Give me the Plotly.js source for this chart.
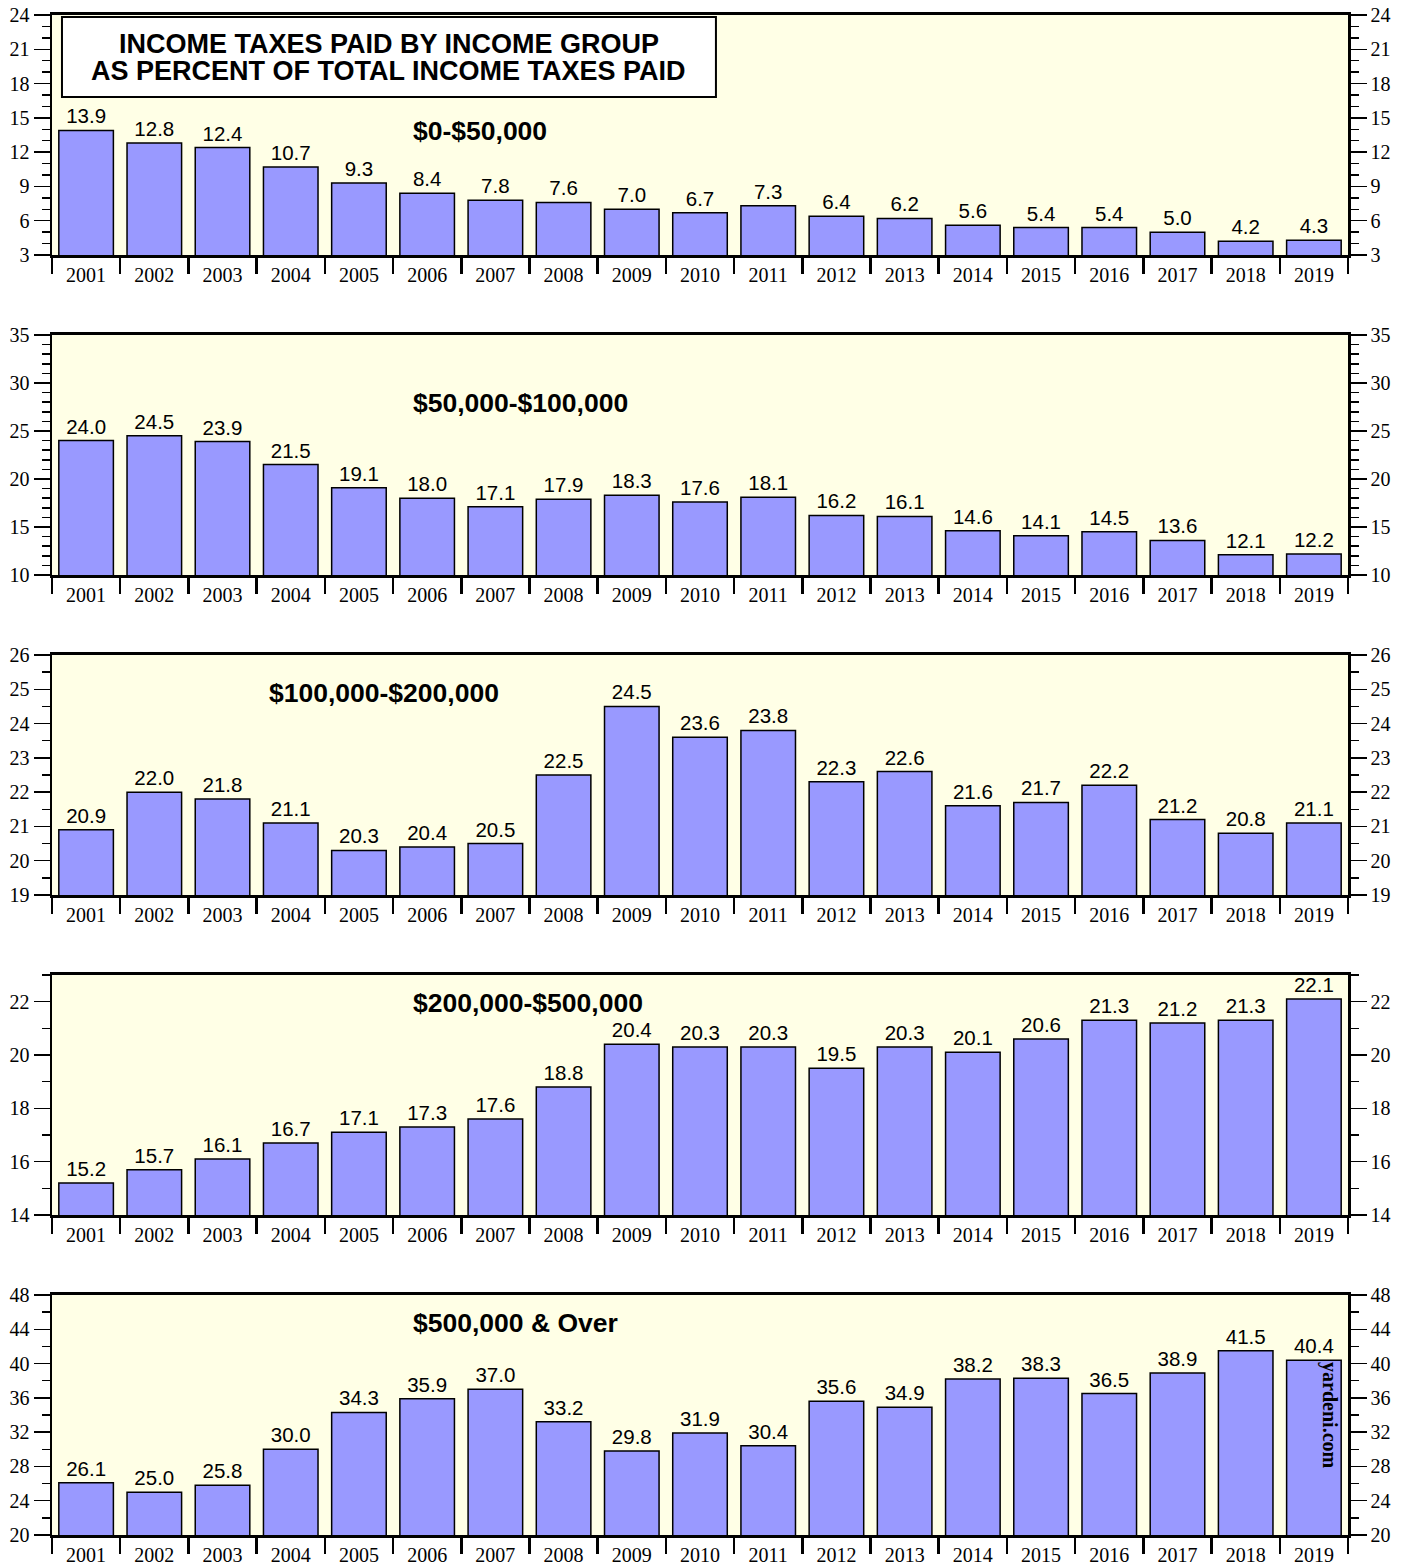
<!DOCTYPE html>
<html>
<head>
<meta charset="utf-8">
<script src="https://cdn.plot.ly/plotly-3.0.1.min.js"></script>
<style>html,body{margin:0;padding:0;background:#fff;}#chart{width:1407px;height:1564px;}</style>
</head>
<body>
<div id="chart"></div>
<script>
var years = ["2001","2002","2003","2004","2005","2006","2007","2008","2009","2010","2011","2012","2013","2014","2015","2016","2017","2018","2019"];
var group1 = [13.9,12.8,12.4,10.7,9.3,8.4,7.8,7.6,7.0,6.7,7.3,6.4,6.2,5.6,5.4,5.4,5.0,4.2,4.3];
var group2 = [24.0,24.5,23.9,21.5,19.1,18.0,17.1,17.9,18.3,17.6,18.1,16.2,16.1,14.6,14.1,14.5,13.6,12.1,12.2];
var group3 = [20.9,22.0,21.8,21.1,20.3,20.4,20.5,22.5,24.5,23.6,23.8,22.3,22.6,21.6,21.7,22.2,21.2,20.8,21.1];
var group4 = [15.2,15.7,16.1,16.7,17.1,17.3,17.6,18.8,20.4,20.3,20.3,19.5,20.3,20.1,20.6,21.3,21.2,21.3,22.1];
var group5 = [26.1,25.0,25.8,30.0,34.3,35.9,37.0,33.2,29.8,31.9,30.4,35.6,34.9,38.2,38.3,36.5,38.9,41.5,40.4];
var groupNames = ["$0-$50,000","$50,000-$100,000","$100,000-$200,000","$200,000-$500,000","$500,000 & Over"];
var titleLines = ["INCOME TAXES PAID BY INCOME GROUP","AS PERCENT OF TOTAL INCOME TAXES PAID"];

var series = [group1, group2, group3, group4, group5];
var yRanges = [[3,24],[10,35],[19,26],[14,23],[20,48]];
var yDticks = [3,5,1,2,4];
var yMinor = [1,1,0.5,1,2];
var domains = [[0.84211,1],[0.63158,0.78947],[0.42105,0.57895],[0.21053,0.36842],[0,0.15789]];
var nameX = [0.2770,0.2770,0.1660,0.2770,0.2770];
var nameY = [0.9237,0.7447,0.5539,0.35,0.1395];

var serif = "Liberation Serif, Times New Roman, serif";
var sans = "Liberation Sans, Arial, sans-serif";

var data = [];
var layout = {
  width: 1407, height: 1564,
  margin: {l: 52, r: 59, t: 15, b: 29, pad: 0},
  paper_bgcolor: "#ffffff",
  plot_bgcolor: "#FFFFE6",
  showlegend: false,
  bargap: 0.2,
  annotations: [],
  shapes: []
};

for (var i = 0; i < 5; i++) {
  var xs = i === 0 ? "" : String(i + 1);
  var ys = i === 0 ? "" : String(i + 1);
  var ysR = String(i + 6);
  data.push({
    type: "bar", x: years, y: series[i],
    xaxis: "x" + xs, yaxis: "y" + ys,
    marker: {color: "#9999FF", line: {color: "#000000", width: 1.5}},
    texttemplate: "%{y:.1f}", textposition: "outside", constraintext: "none",
    cliponaxis: false,
    textfont: {family: sans, size: 20.5, color: "#000"},
    hoverinfo: "x+y"
  });
  data.push({
    type: "scatter", mode: "markers", x: [years[0]], y: [yRanges[i][0]],
    xaxis: "x" + xs, yaxis: "y" + ysR,
    marker: {opacity: 0}, hoverinfo: "skip"
  });
  layout["xaxis" + xs] = {
    type: "category", domain: [0, 1], anchor: "y" + ys,
    range: [-0.5, 18.5], fixedrange: true,
    showline: true, linecolor: "#000", linewidth: 3, mirror: true,
    ticks: "outside", tickson: "boundaries", ticklen: 16, tickwidth: 2.5, tickcolor: "#000",
    ticklabelstandoff: 0,
    tickfont: {family: serif, size: 20, color: "#000"},
    showgrid: false, zeroline: false
  };
  var yBase = {
    domain: domains[i], range: yRanges[i], dtick: yDticks[i], tick0: 0,
    showline: true, linecolor: "#000", linewidth: 2.5,
    ticks: "outside", ticklen: 16, tickwidth: 1.5, tickcolor: "#000",
    minor: {dtick: yMinor[i], ticks: "outside", ticklen: 8, tickwidth: 1.5, tickcolor: "#000", showgrid: false},
    tickfont: {family: serif, size: 20, color: "#000"},
    showgrid: false, zeroline: false, fixedrange: true
  };
  var yL = JSON.parse(JSON.stringify(yBase));
  yL.anchor = "x" + xs; yL.side = "left";
  layout["yaxis" + ys] = yL;
  var yR = JSON.parse(JSON.stringify(yBase));
  yR.anchor = "x" + xs; yR.side = "right"; yR.overlaying = "y" + ys;
  layout["yaxis" + ysR] = yR;

  layout.annotations.push({
    xref: "paper", yref: "paper", x: nameX[i], y: nameY[i],
    xanchor: "left", yanchor: "middle", showarrow: false,
    text: "<b>" + groupNames[i] + "</b>",
    font: {family: sans, size: 26.5, color: "#000"}
  });
}

layout.shapes.push({
  type: "rect", xref: "paper", yref: "paper",
  x0: 0.0077, x1: 0.5123, y0: 0.9461, y1: 0.9987,
  fillcolor: "#ffffff", line: {color: "#000", width: 2}, layer: "above"
});
layout.annotations.push({
  xref: "paper", yref: "paper", x: 0.26, y: 0.9809, xanchor: "center", yanchor: "middle",
  showarrow: false, text: "<b>" + titleLines[0] + "</b>", font: {family: sans, size: 27, color: "#000"}
});
layout.annotations.push({
  xref: "paper", yref: "paper", x: 0.26, y: 0.9632, xanchor: "center", yanchor: "middle",
  showarrow: false, text: "<b>" + titleLines[1] + "</b>", font: {family: sans, size: 27, color: "#000"}
});
layout.annotations.push({
  xref: "paper", yref: "paper", x: 0.9861, y: 0.0789, xanchor: "center", yanchor: "middle",
  showarrow: false, textangle: 90, text: "<b>yardeni.com</b>", font: {family: serif, size: 20, color: "#000"}
});

Plotly.newPlot("chart", data, layout, {displayModeBar: false, staticPlot: true});
</script>
</body>
</html>
